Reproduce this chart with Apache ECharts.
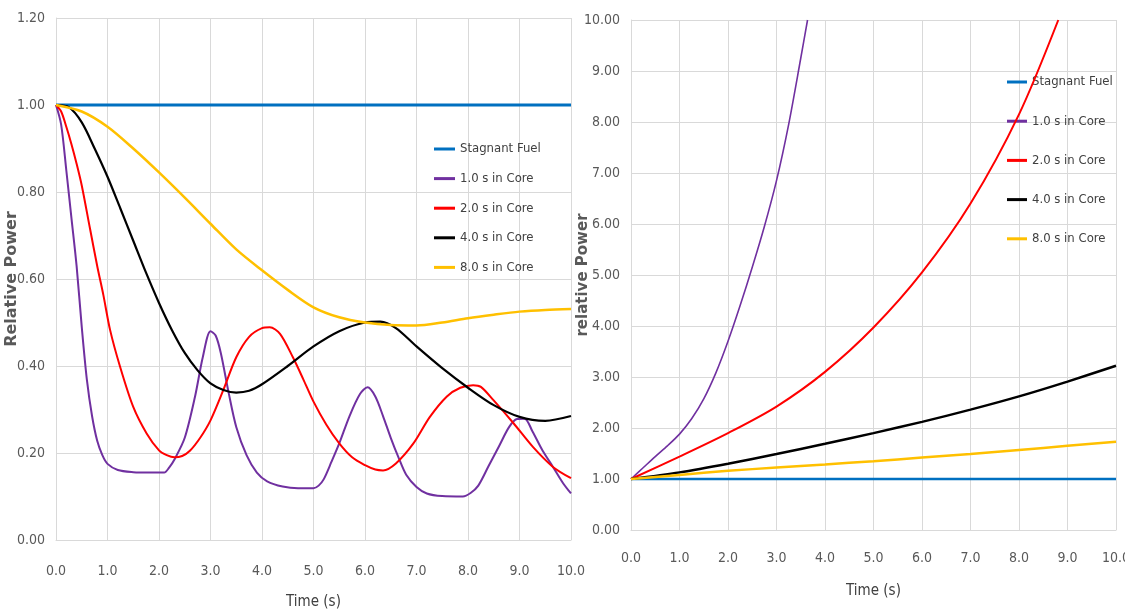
<!DOCTYPE html>
<html>
<head>
<meta charset="utf-8">
<script src="https://cdn.jsdelivr.net/npm/echarts@6/dist/echarts.min.js"></script>
<style>
  html, body { margin: 0; padding: 0; background: #fff; }
  #chart { width: 1125px; height: 610px; }
</style>
</head>
<body>
<div id="chart"></div>
<script>
// Series names and colours
const seriesNames = ['Stagnant Fuel', '1.0 s in Core', '2.0 s in Core', '4.0 s in Core', '8.0 s in Core'];
const seriesColors = ['#0070C0', '#7030A0', '#FF0000', '#000000', '#FFC000'];

// Left panel: relative power vs time (s)
const stagnantT = [0, 10];
const stagnantV = [1.0, 1.0];

const core1T = [0, 0.1, 0.2, 0.3, 0.4, 0.5, 0.6, 0.7, 0.8, 0.9, 1.0, 1.2, 1.5, 1.8, 2.1, 2.2, 2.3, 2.5, 2.7, 2.85, 3.0, 3.1, 3.2, 3.35, 3.5, 3.7, 3.9, 4.1, 4.4, 4.7, 5.0, 5.1, 5.2, 5.35, 5.5, 5.7, 5.9, 6.05, 6.2, 6.35, 6.5, 6.65, 6.8, 7.0, 7.2, 7.5, 7.9, 8.05, 8.2, 8.4, 8.6, 8.8, 8.95, 9.1, 9.25, 9.45, 9.65, 9.85, 10.0];
const core1V = [1.0, 0.955, 0.85, 0.74, 0.63, 0.49, 0.368, 0.285, 0.228, 0.195, 0.175, 0.161, 0.156, 0.155, 0.155, 0.167, 0.185, 0.235, 0.33, 0.42, 0.48, 0.47, 0.43, 0.34, 0.26, 0.195, 0.155, 0.135, 0.123, 0.119, 0.119, 0.125, 0.14, 0.18, 0.222, 0.285, 0.335, 0.351, 0.33, 0.285, 0.235, 0.19, 0.15, 0.122, 0.107, 0.101, 0.100, 0.108, 0.125, 0.17, 0.215, 0.26, 0.278, 0.279, 0.25, 0.205, 0.168, 0.13, 0.107];

const core2T = [0, 0.1, 0.2, 0.3, 0.4, 0.5, 0.66, 0.8, 0.92, 1.05, 1.24, 1.5, 1.76, 2.0, 2.15, 2.3, 2.45, 2.6, 2.8, 3.0, 3.25, 3.5, 3.75, 4.0, 4.15, 4.35, 4.6, 4.8, 5.0, 5.25, 5.5, 5.75, 6.0, 6.2, 6.35, 6.6, 6.94, 7.26, 7.59, 7.85, 8.1, 8.25, 8.49, 8.88, 9.26, 9.65, 10.0];
const core2V = [1.0, 0.985, 0.95, 0.91, 0.865, 0.815, 0.716, 0.63, 0.563, 0.483, 0.40, 0.306, 0.245, 0.206, 0.195, 0.19, 0.193, 0.205, 0.235, 0.275, 0.345, 0.42, 0.467, 0.487, 0.489, 0.474, 0.42, 0.37, 0.318, 0.265, 0.222, 0.19, 0.172, 0.162, 0.16, 0.176, 0.222, 0.283, 0.33, 0.35, 0.356, 0.352, 0.322, 0.269, 0.214, 0.168, 0.142];

const core4T = [0, 0.25, 0.5, 0.75, 1.0, 1.25, 1.5, 1.75, 2.0, 2.25, 2.5, 2.75, 3.0, 3.25, 3.5, 3.75, 4.0, 4.5, 5.0, 5.5, 6.0, 6.3, 6.6, 7.0, 7.5, 8.0, 8.5, 9.0, 9.5, 10.0];
const core4V = [1.0, 0.995, 0.96, 0.9, 0.835, 0.762, 0.688, 0.614, 0.545, 0.483, 0.43, 0.39, 0.36, 0.345, 0.339, 0.343, 0.358, 0.40, 0.445, 0.48, 0.50, 0.502, 0.487, 0.445, 0.395, 0.35, 0.31, 0.283, 0.274, 0.285];

const core8T = [0, 0.5, 1.0, 1.5, 2.0, 2.5, 3.0, 3.5, 4.0, 4.5, 5.0, 5.5, 6.0, 6.5, 7.0, 7.5, 8.0, 8.5, 9.0, 9.5, 10.0];
const core8V = [1.0, 0.985, 0.95, 0.90, 0.845, 0.787, 0.727, 0.668, 0.62, 0.575, 0.535, 0.512, 0.50, 0.494, 0.493, 0.50, 0.51, 0.518, 0.525, 0.529, 0.531];

// Right panel: relative power vs time (s)
const rStagnantT = [0, 10];
const rStagnantV = [1.0, 1.0];
const rCore1T = [0, 0.25, 0.5, 0.75, 1.0, 1.25, 1.5, 1.75, 2.0, 2.25, 2.5, 2.75, 3.0, 3.25, 3.5, 3.64];
const rCore1V = [1.0, 1.22, 1.44, 1.65, 1.88, 2.18, 2.57, 3.08, 3.7, 4.4, 5.15, 5.95, 6.85, 7.95, 9.25, 10.0];
const rCore2T = [0, 1, 2, 3, 4, 5, 6, 7, 8, 8.81];
const rCore2V = [1.0, 1.44, 1.9, 2.42, 3.1, 3.97, 5.05, 6.4, 8.15, 10.0];
const rCore4T = [0, 1, 2, 3, 4, 5, 6, 7, 8, 9, 10];
const rCore4V = [1.0, 1.13, 1.3, 1.49, 1.69, 1.9, 2.12, 2.36, 2.62, 2.91, 3.22];
const rCore8T = [0, 1, 2, 3, 4, 5, 6, 7, 8, 9, 10];
const rCore8V = [1.0, 1.08, 1.16, 1.225, 1.285, 1.35, 1.42, 1.49, 1.57, 1.65, 1.73];

// Axis labels
const xAxisTitle = 'Time (s)';
const leftYTitle = 'Relative Power';
const rightYTitle = 'relative Power';

const pairs = (t, v) => t.map((x, i) => [x, v[i]]);

const narrowFont = "'DejaVu Sans Condensed', 'Liberation Sans Narrow', 'Liberation Sans', sans-serif";
const tickColor = '#595959';
const gridColor = '#d9d9d9';

const leftSets = [[stagnantT, stagnantV], [core1T, core1V], [core2T, core2V], [core4T, core4V], [core8T, core8V]];
const rightSets = [[rStagnantT, rStagnantV], [rCore1T, rCore1V], [rCore2T, rCore2V], [rCore4T, rCore4V], [rCore8T, rCore8V]];
const leftWidths = [3, 2, 2, 2.2, 2.5];
const rightWidths = [2.5, 1.6, 2, 2.5, 2.5];

function xAxisFor(gridIndex, labelMargin, nameGap) {
  return {
    gridIndex, type: 'value', min: 0, max: 10, interval: 1,
    name: xAxisTitle, nameLocation: 'middle', nameGap, nameMoveOverlap: false,
    nameTextStyle: { fontFamily: narrowFont, fontSize: 15, color: '#404040' },
    axisLine: { show: true, lineStyle: { color: gridColor, width: 1 } },
    axisTick: { show: false },
    axisLabel: { margin: labelMargin, fontFamily: narrowFont, fontSize: 14, color: tickColor, formatter: v => v.toFixed(1) },
    splitLine: { show: true, lineStyle: { color: gridColor, width: 1 } }
  };
}

function yAxisFor(gridIndex, max, interval, title, nameGap, nameSize) {
  return {
    gridIndex, type: 'value', min: 0, max, interval,
    name: title, nameLocation: 'middle', nameGap, nameRotate: 90, nameMoveOverlap: false,
    nameTextStyle: { fontFamily: "'DejaVu Sans', sans-serif", fontWeight: 'bold', fontSize: nameSize, color: '#595959' },
    axisLine: { show: true, lineStyle: { color: gridColor, width: 1 } },
    axisTick: { show: false },
    axisLabel: { margin: 11, fontFamily: narrowFont, fontSize: 14, color: tickColor, formatter: v => v.toFixed(2) },
    splitLine: { show: true, lineStyle: { color: gridColor, width: 1 } }
  };
}

const series = [];
leftSets.forEach((s, i) => series.push({
  name: seriesNames[i], type: 'line', xAxisIndex: 0, yAxisIndex: 0,
  data: pairs(s[0], s[1]), showSymbol: false, symbol: 'none', smooth: 0.3,
  lineStyle: { color: seriesColors[i], width: leftWidths[i] }, itemStyle: { color: seriesColors[i] },
  z: i === 0 ? 1 : 2 + i
}));
rightSets.forEach((s, i) => series.push({
  name: seriesNames[i], type: 'line', xAxisIndex: 1, yAxisIndex: 1,
  data: pairs(s[0], s[1]), showSymbol: false, symbol: 'none', smooth: 0.3,
  lineStyle: { color: seriesColors[i], width: rightWidths[i] }, itemStyle: { color: seriesColors[i] },
  z: 2 + i
}));

const legendText = { fontFamily: narrowFont, fontSize: 13, color: '#404040', lineHeight: 16 };

const option = {
  animation: false,
  backgroundColor: '#ffffff',
  grid: [
    { left: 56, top: 18, width: 515, height: 522, containLabel: false, outerBoundsMode: 'none' },
    { left: 631, top: 20, width: 485, height: 510, containLabel: false, outerBoundsMode: 'none' }
  ],
  legend: [
    { orient: 'vertical', left: 429, top: 136, itemGap: 13.6, itemWidth: 21, itemHeight: 3, icon: 'rect',
      data: seriesNames, textStyle: legendText, selectedMode: false },
    { orient: 'vertical', left: 1002, top: 69, itemGap: 23.2, itemWidth: 20, itemHeight: 3, icon: 'rect',
      data: seriesNames, textStyle: legendText, selectedMode: false }
  ],
  xAxis: [xAxisFor(0, 24, 55), xAxisFor(1, 21, 54)],
  yAxis: [yAxisFor(0, 1.2, 0.2, leftYTitle, 36, 16), yAxisFor(1, 10, 1, rightYTitle, 40, 15)],
  series
};

const chart = echarts.init(document.getElementById('chart'), null, { renderer: 'canvas' });
chart.setOption(option);
</script>
</body>
</html>
